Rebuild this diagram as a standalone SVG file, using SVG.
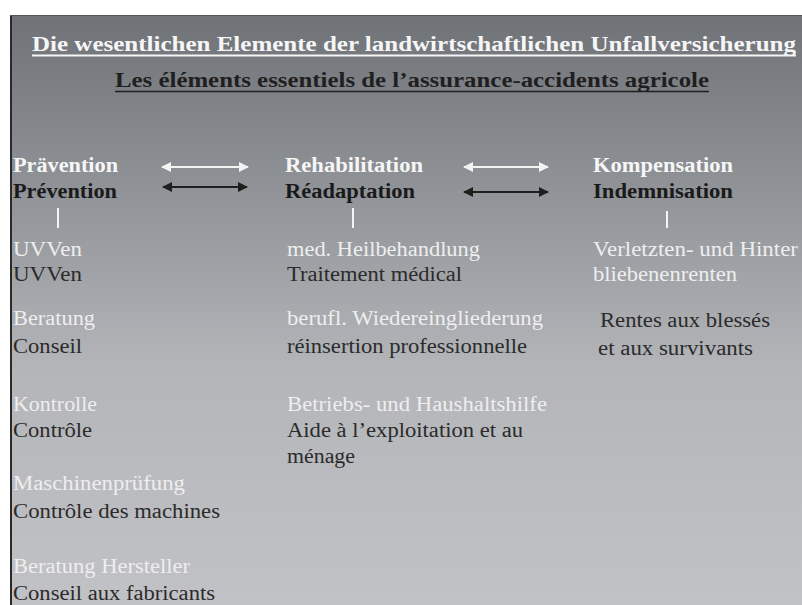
<svg xmlns="http://www.w3.org/2000/svg" width="802" height="605" viewBox="0 0 802 605">
<defs>
<linearGradient id="bg" x1="0" y1="15" x2="0" y2="605" gradientUnits="userSpaceOnUse">
<stop offset="0" stop-color="#6f7277"/>
<stop offset="0.3" stop-color="#909397"/>
<stop offset="0.6" stop-color="#b3b5b9"/>
<stop offset="1" stop-color="#c1c2c5"/>
</linearGradient>
<marker id="aw" viewBox="0 0 10 10" refX="9" refY="5" markerWidth="5" markerHeight="5" orient="auto-start-reverse" markerUnits="strokeWidth"><path d="M0,0 L10,5 L0,10 z" fill="#f4f4f4"/></marker>
<marker id="ab" viewBox="0 0 10 10" refX="9" refY="5" markerWidth="5" markerHeight="5" orient="auto-start-reverse" markerUnits="strokeWidth"><path d="M0,0 L10,5 L0,10 z" fill="#1e1e1e"/></marker>
</defs>
<style>
text{font-family:"Liberation Serif","Times New Roman",serif;}
.t1{font-size:22px;font-weight:bold;fill:#f6f6f6;}
.t2{font-size:20px;font-weight:bold;fill:#1f1f1f;}
.hw{font-size:20px;font-weight:bold;fill:#f6f6f6;}
.hb{font-size:20px;font-weight:bold;fill:#1a1a1a;}
.w{font-size:20px;fill:#eeeeee;}
.d{font-size:20px;fill:#2b2b2b;}
.aw{stroke:#f4f4f4;stroke-width:2;fill:none;}
.ab{stroke:#1e1e1e;stroke-width:2;fill:none;}
.bar{stroke:#f4f4f4;stroke-width:2;}
</style>
<rect x="0" y="0" width="802" height="605" fill="#ffffff"/>
<rect x="10" y="15" width="792" height="590" fill="url(#bg)"/>
<line x1="11" y1="15" x2="11" y2="605" stroke="#2a2a2a" stroke-width="2"/>
<line x1="10" y1="15.5" x2="802" y2="15.5" stroke="#555" stroke-width="1"/>

<g id="title">
<text class="t1" x="32" y="51" textLength="764" lengthAdjust="spacingAndGlyphs">Die wesentlichen Elemente der landwirtschaftlichen Unfallversicherung</text>
<line x1="32" y1="55.5" x2="796" y2="55.5" stroke="#f6f6f6" stroke-width="2"/>
<text class="t2" x="115" y="87" textLength="594" lengthAdjust="spacingAndGlyphs">Les éléments essentiels de l’assurance-accidents agricole</text>
<line x1="115" y1="91.5" x2="709" y2="91.5" stroke="#1f1f1f" stroke-width="1.5"/>
</g>

<g id="connectors">
<line class="aw" x1="162" y1="167" x2="248" y2="167" marker-start="url(#aw)" marker-end="url(#aw)"/>
<line class="ab" x1="163" y1="187" x2="247" y2="187" marker-start="url(#ab)" marker-end="url(#ab)"/>
<line class="aw" x1="464" y1="167" x2="548" y2="167" marker-start="url(#aw)" marker-end="url(#aw)"/>
<line class="ab" x1="464" y1="192" x2="548" y2="192" marker-start="url(#ab)" marker-end="url(#ab)"/>
<line class="bar" x1="58" y1="208" x2="58" y2="228"/>
<line class="bar" x1="353" y1="208" x2="353" y2="228"/>
<line class="bar" x1="667" y1="211" x2="667" y2="228"/>
</g>

<g id="praevention">
<text class="hw" x="13" y="172" textLength="105" lengthAdjust="spacingAndGlyphs">Prävention</text>
<text class="hb" x="13" y="198" textLength="104" lengthAdjust="spacingAndGlyphs">Prévention</text>
</g>
<g id="rehabilitation">
<text class="hw" x="285" y="172" textLength="138" lengthAdjust="spacingAndGlyphs">Rehabilitation</text>
<text class="hb" x="285" y="198" textLength="130" lengthAdjust="spacingAndGlyphs">Réadaptation</text>
</g>
<g id="kompensation">
<text class="hw" x="593" y="172" textLength="140" lengthAdjust="spacingAndGlyphs">Kompensation</text>
<text class="hb" x="593" y="198" textLength="140" lengthAdjust="spacingAndGlyphs">Indemnisation</text>
</g>

<g id="uvven">
<text class="w" x="13" y="256" textLength="69" lengthAdjust="spacingAndGlyphs">UVVen</text>
<text class="d" x="13" y="281" textLength="69" lengthAdjust="spacingAndGlyphs">UVVen</text>
</g>
<g id="beratung">
<text class="w" x="13" y="325" textLength="82" lengthAdjust="spacingAndGlyphs">Beratung</text>
<text class="d" x="13" y="353" textLength="69" lengthAdjust="spacingAndGlyphs">Conseil</text>
</g>
<g id="kontrolle">
<text class="w" x="13" y="411" textLength="84" lengthAdjust="spacingAndGlyphs">Kontrolle</text>
<text class="d" x="13" y="437" textLength="79" lengthAdjust="spacingAndGlyphs">Contrôle</text>
</g>
<g id="maschinenpruefung">
<text class="w" x="13" y="490" textLength="172" lengthAdjust="spacingAndGlyphs">Maschinenprüfung</text>
<text class="d" x="13" y="518" textLength="207" lengthAdjust="spacingAndGlyphs">Contrôle des machines</text>
</g>
<g id="beratung-hersteller">
<text class="w" x="13" y="573" textLength="177" lengthAdjust="spacingAndGlyphs">Beratung Hersteller</text>
<text class="d" x="13" y="600" textLength="202" lengthAdjust="spacingAndGlyphs">Conseil aux fabricants</text>
</g>

<g id="heilbehandlung">
<text class="w" x="287" y="256" textLength="193" lengthAdjust="spacingAndGlyphs">med. Heilbehandlung</text>
<text class="d" x="287" y="281" textLength="175" lengthAdjust="spacingAndGlyphs">Traitement médical</text>
</g>
<g id="wiedereingliederung">
<text class="w" x="287" y="325" textLength="256" lengthAdjust="spacingAndGlyphs">berufl. Wiedereingliederung</text>
<text class="d" x="287" y="353" textLength="240" lengthAdjust="spacingAndGlyphs">réinsertion professionnelle</text>
</g>
<g id="betriebshilfe">
<text class="w" x="287" y="411" textLength="260" lengthAdjust="spacingAndGlyphs">Betriebs- und Haushaltshilfe</text>
<text class="d" x="287" y="437" textLength="236" lengthAdjust="spacingAndGlyphs">Aide à l’exploitation et au</text>
<text class="d" x="287" y="463" textLength="68" lengthAdjust="spacingAndGlyphs">ménage</text>
</g>

<g id="renten">
<text class="w" x="593" y="256" textLength="205" lengthAdjust="spacingAndGlyphs">Verletzten- und Hinter</text>
<text class="w" x="593" y="281" textLength="144" lengthAdjust="spacingAndGlyphs">bliebenenrenten</text>
<text class="d" x="600" y="327" textLength="170" lengthAdjust="spacingAndGlyphs">Rentes aux blessés</text>
<text class="d" x="598" y="355" textLength="155" lengthAdjust="spacingAndGlyphs">et aux survivants</text>
</g>
</svg>
